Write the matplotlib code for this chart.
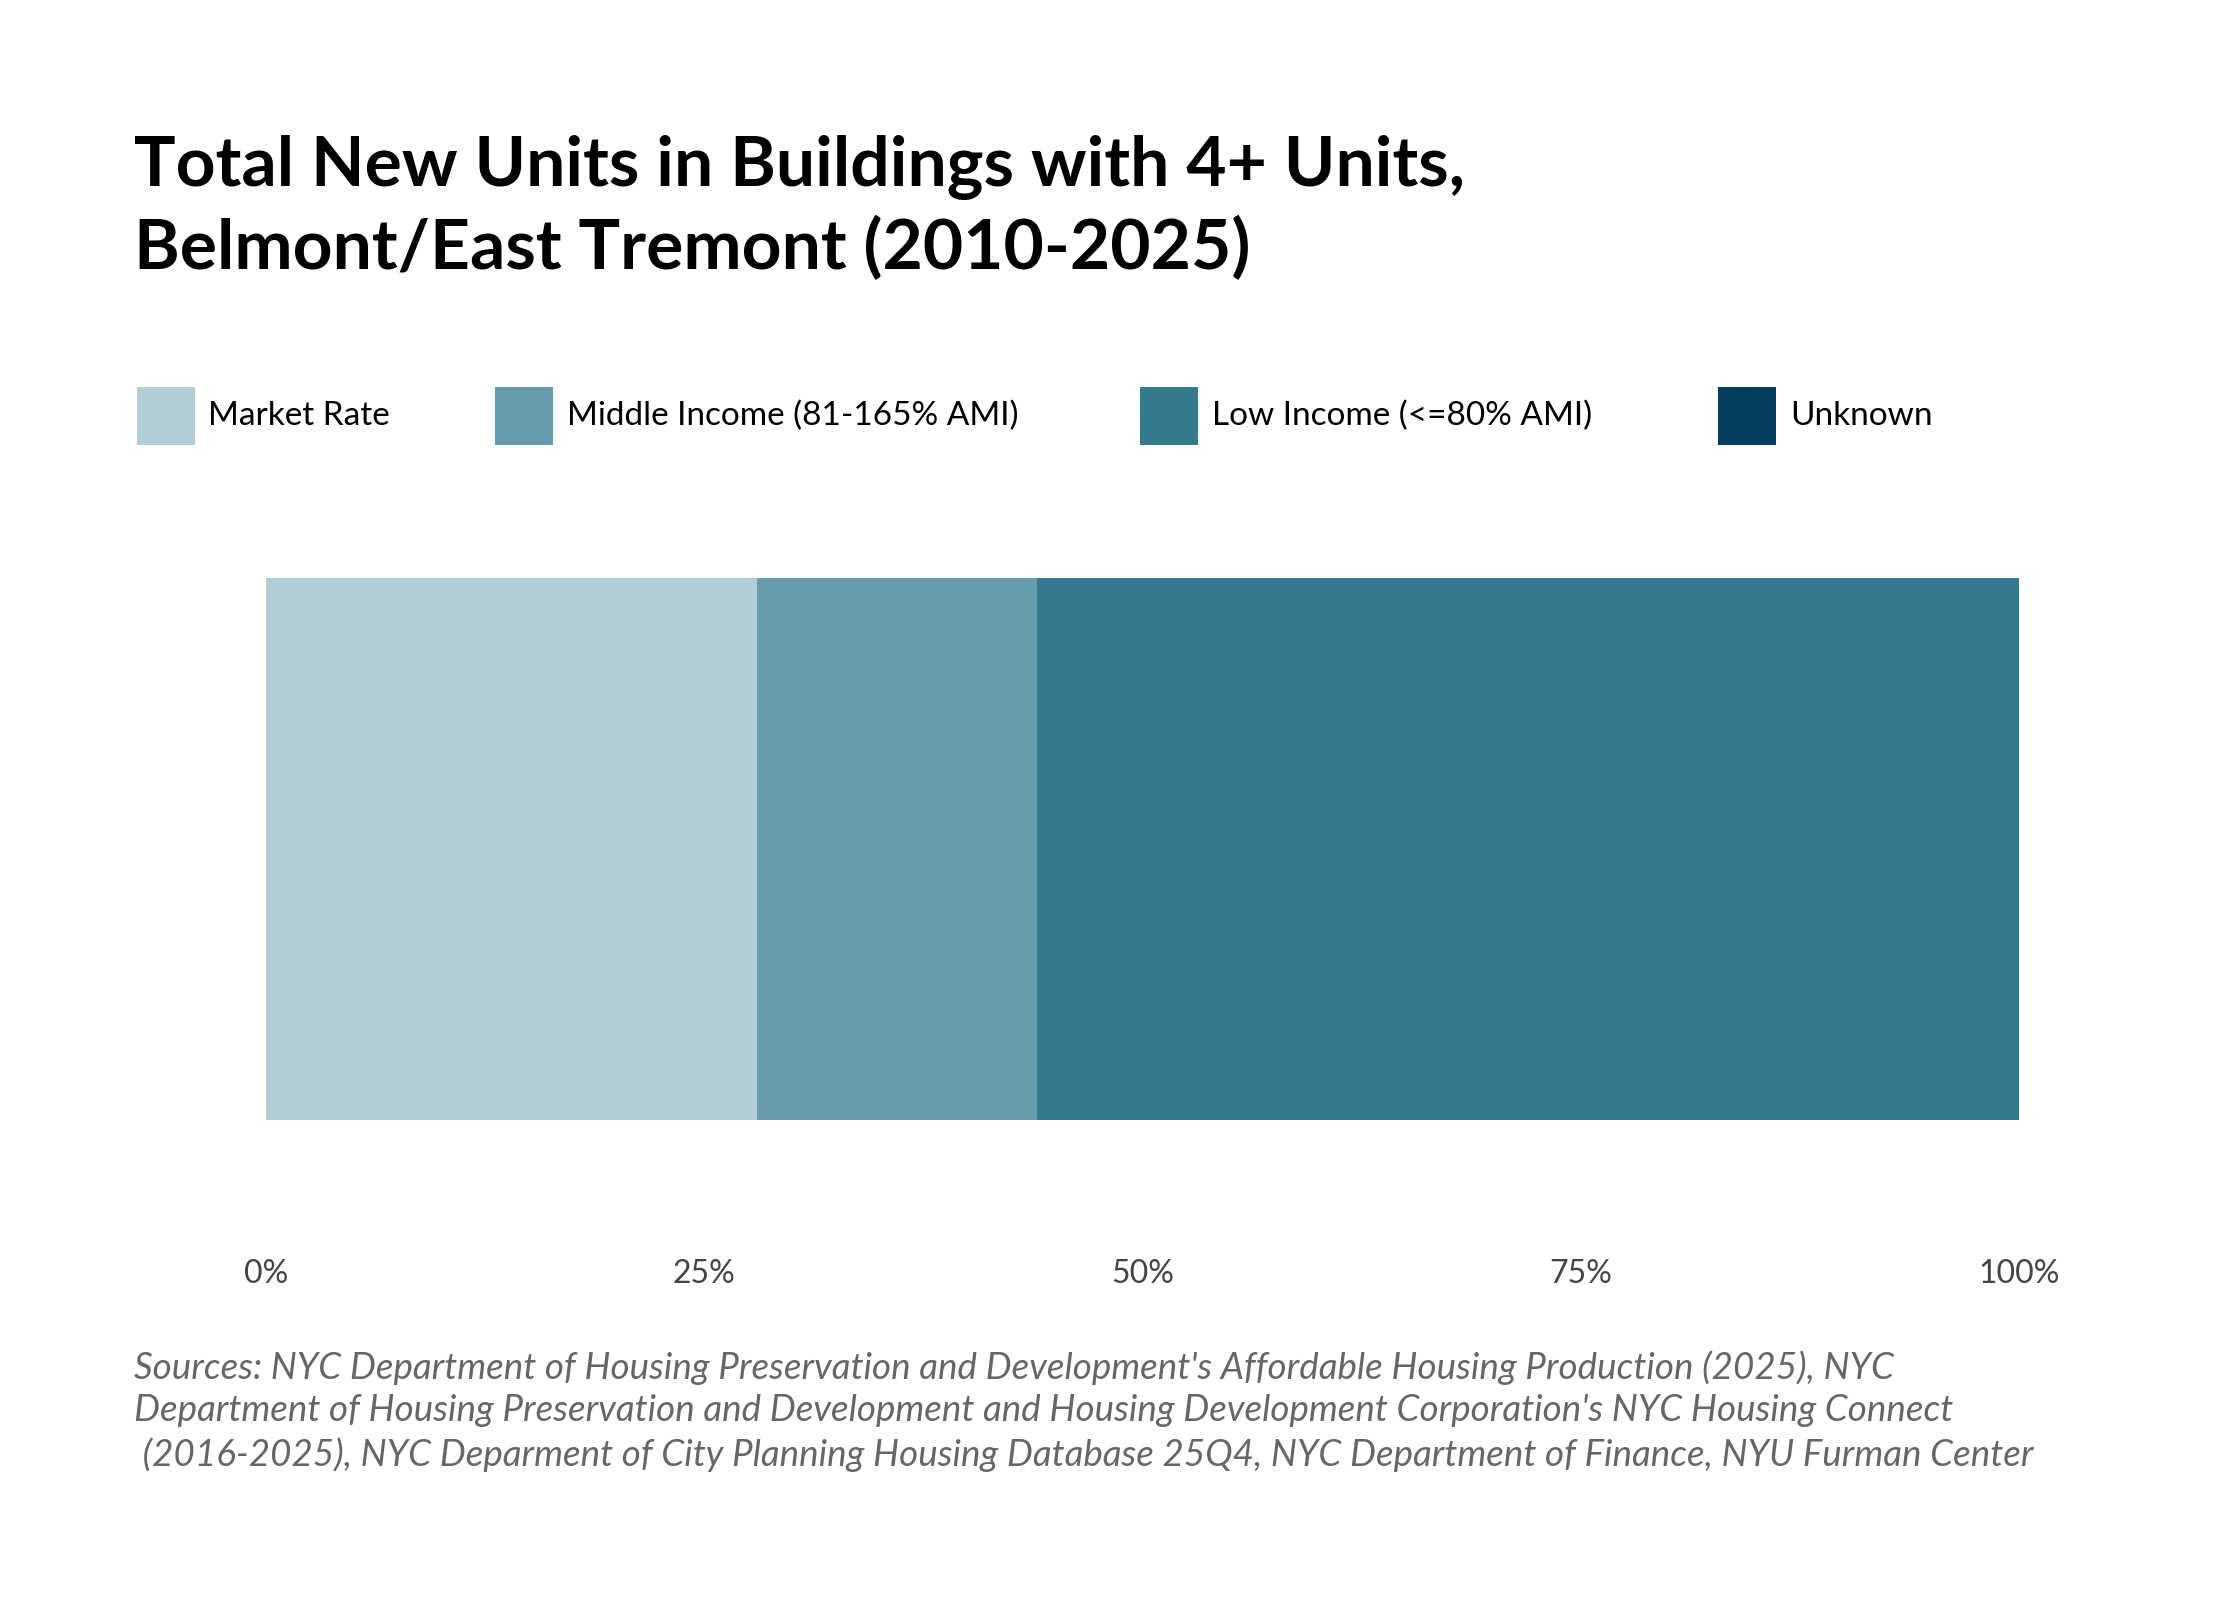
import matplotlib.pyplot as plt
from matplotlib.patches import Rectangle

categories = ['Market Rate', 'Middle Income (81-165% AMI)', 'Low Income (<=80% AMI)', 'Unknown']
shares = [28.0, 16.0, 56.0, 0.0]
colors = ['#b3cdd6', '#669cac', '#347a8f', '#033f5c']
tick_vals = [0, 25, 50, 75, 100]
tick_labels = ['0%', '25%', '50%', '75%', '100%']

plt.rcParams['font.family'] = ['Lato', 'DejaVu Sans']
fig = plt.figure(figsize=(22.4, 16), dpi=100)

fig.text(0.06, 0.87, 'Total New Units in Buildings with 4+ Units,\nBelmont/East Tremont (2010-2025)',
         fontsize=50, fontweight='bold', va='center', linespacing=1.3)

# legend drawn by hand
leg_x = [0.061, 0.221, 0.509, 0.767]
for x, lab, c in zip(leg_x, categories, colors):
    fig.patches.append(Rectangle((x, 0.722), 0.026, 0.036, transform=fig.transFigure,
                                 facecolor=c, edgecolor='none'))
    fig.text(x + 0.032, 0.740, lab, fontsize=24, va='center')

ax = fig.add_axes([0.1186, 0.30, 0.7827, 0.339])
left = 0
for v, c in zip(shares, colors):
    ax.barh(0, v, left=left, height=1, color=c)
    left += v
ax.set_xlim(0, 100)
ax.set_ylim(-0.5, 0.5)
ax.set_yticks([])
ax.set_xticks(tick_vals)
ax.set_xticklabels(tick_labels, fontsize=23, color='#444444')
ax.tick_params(axis='x', length=0, pad=100)
for s in ax.spines.values():
    s.set_visible(False)

src = ("Sources: NYC Department of Housing Preservation and Development's Affordable Housing Production (2025), NYC\n"
       "Department of Housing Preservation and Development and Housing Development Corporation's NYC Housing Connect\n"
       " (2016-2025), NYC Deparment of City Planning Housing Database 25Q4, NYC Department of Finance, NYU Furman Center")
fig.text(0.06, 0.118, src, fontsize=26.5, style='italic', color='#666666', va='center', linespacing=1.35)

fig.savefig('out.png', dpi=100, facecolor='white')
